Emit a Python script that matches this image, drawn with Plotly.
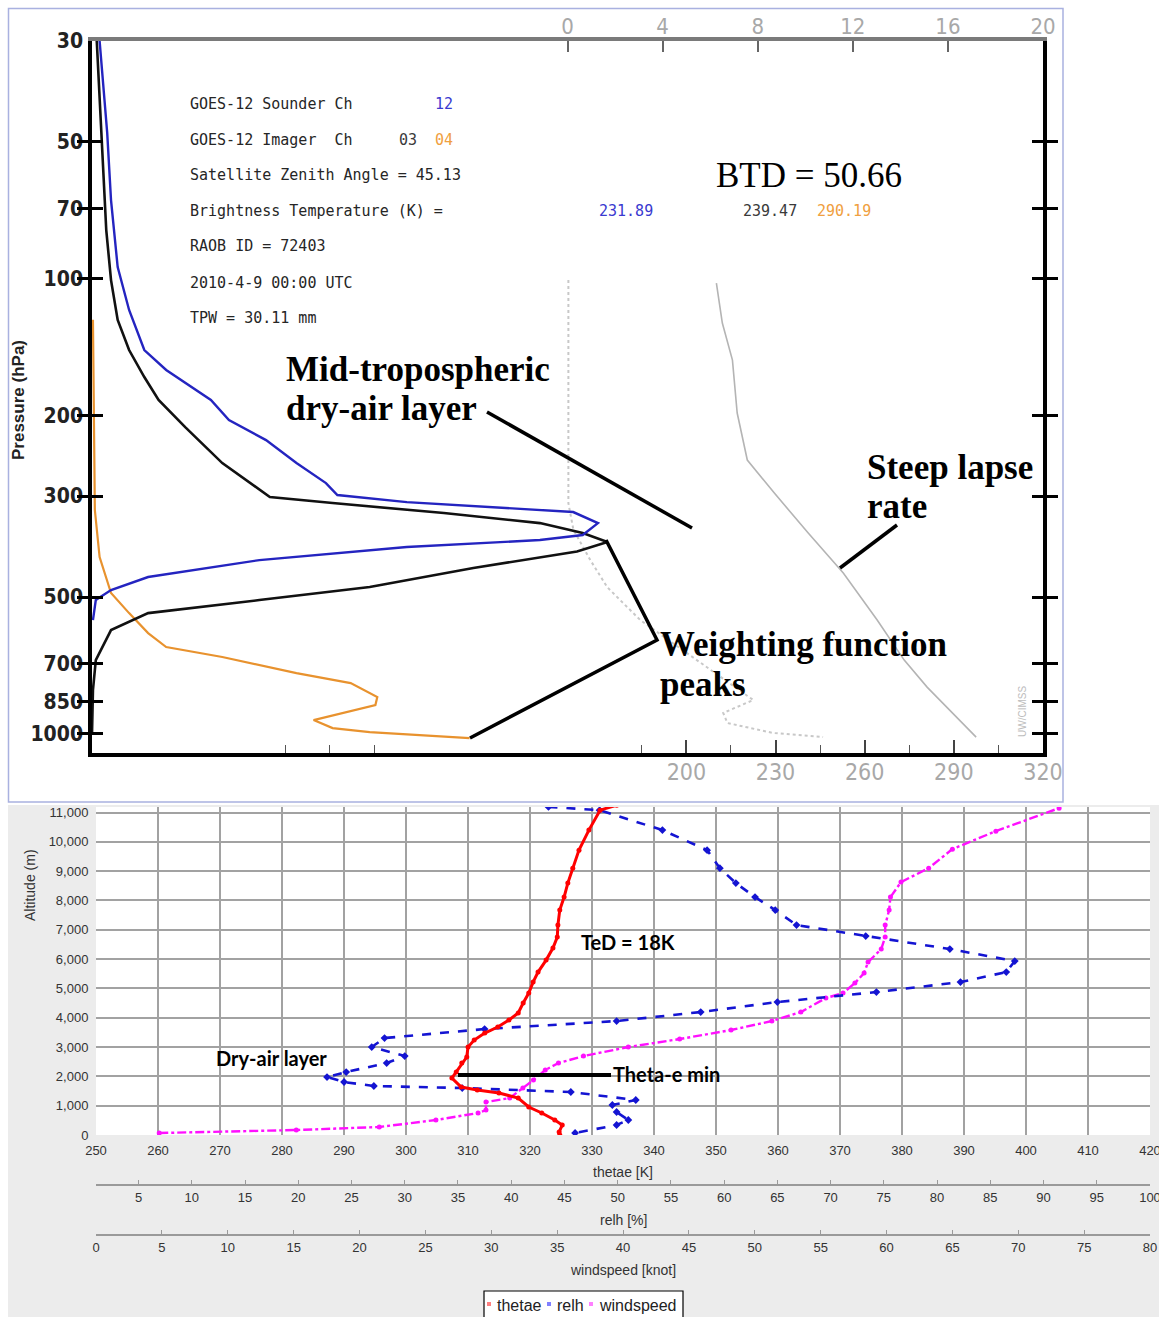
import math
import plotly.graph_objects as go

# Figure fills the whole 1159x1317 page (body margin removed in post_script)
OX, OY = 0, 0
W, H = 1159, 1317

# ---------------- top panel data (GOES-12 weighting functions + RAOB) ----------------
p_levels = [30, 50, 70, 100, 200, 300, 500, 700, 850, 1000]
temp_ticks = [200, 230, 260, 290, 320]
temp_minor = [65, 80, 95, 185, 215, 245, 275, 305]
wf_ticks = [0, 4, 8, 12, 16, 20]

# Sounder ch12 (blue) relative weight vs pressure
wf_ch12_w = [0.008, 0.013, 0.016, 0.020, 0.027, 0.039, 0.055, 0.078, 0.109, 0.125, 0.144,
             0.183, 0.215, 0.246, 0.258, 0.331, 0.506, 0.532, 0.516, 0.471, 0.331, 0.176,
             0.059, 0.020, 0.004, 0.001]
wf_ch12_p = [30, 40.4, 47.8, 67.1, 94.2, 117, 143.3, 158.5, 175.4, 184.5, 204.2,
             226, 253.9, 280.9, 298.5, 309.3, 325.3, 344, 365.4, 374.8, 388.3, 414.8,
             451.9, 482.8, 507.8, 561.9]

# Imager ch03 (black)
wf_ch03_w = [0.005, 0.008, 0.012, 0.015, 0.020, 0.027, 0.039, 0.055, 0.070, 0.098, 0.137,
             0.187, 0.253, 0.370, 0.471, 0.516, 0.542, 0.510, 0.401, 0.292, 0.176, 0.059,
             0.020, 0.004, 0.001, 0.0]
wf_ch03_p = [30, 40.4, 56.8, 78.1, 100.6, 123.1, 143.3, 164.3, 184.5, 211.6, 253.9,
             301.5, 310.8, 327, 344, 361.8, 378.6, 397, 431.9, 475.5, 507.8, 542.5,
             591, 688.2, 800.9, 1000]

# Imager ch04 (orange)
wf_ch04_w = [0.001, 0.002, 0.003, 0.008, 0.020, 0.039, 0.059, 0.078, 0.137, 0.215, 0.272,
             0.300, 0.298, 0.233, 0.253, 0.292, 0.397]
wf_ch04_p = [123, 204, 322, 408.6, 490, 542.5, 600.1, 644.2, 677.5, 734.8, 773,
             829.6, 864, 932.1, 970.6, 990.4, 1020.9]

# RAOB temperature (solid grey) and dewpoint (dotted grey), K
temp_T = [210.1, 212.1, 215.5, 217.1, 220.5, 229.6, 241.0, 252.8, 264.2, 273.3, 281.0, 297.5]
temp_p = [102.1, 125, 150.8, 197.1, 250, 295.5, 361.8, 443, 561.9, 688.2, 788.8, 1015.8]
dew_T = [160.3, 160.3, 162.0, 167.7, 173.4, 178.8, 184.5, 222.5, 212.4, 213.8, 229.2, 246.0]
dew_p = [100.5, 311, 356, 415, 476, 516, 562, 842, 899, 946, 995, 1016]

# ---------------- bottom panel data (sounding profile) ----------------
thetae_ticks = list(range(250, 421, 10))
relh_ticks = list(range(5, 101, 5))
wind_ticks = list(range(0, 81, 5))
alt_ticks = list(range(0, 11001, 1000))

thetae_alt = [0, 102, 341, 511, 750, 955, 1261, 1432, 1534, 1637, 1943, 2148, 2455, 2659,
              3000, 3239, 3478, 3682, 3921, 4160, 4500, 4841, 5216, 5557, 5966, 6376,
              6751, 7160, 7671, 8115, 8592, 9103, 9717, 10400, 11080, 11250]
thetae_val = [324.8, 324.7, 325.2, 324.0, 321.9, 319.8, 318.1, 315.0, 311.5, 308.9, 307.4,
              308.1, 309.0, 309.8, 310.0, 311.0, 312.7, 314.8, 316.6, 318.1, 318.9, 319.8,
              320.5, 321.3, 322.6, 323.7, 324.4, 324.5, 324.8, 325.5, 326.1, 326.9, 327.9,
              329.5, 331.3, 334.0]

relh_alt = [11190, 11080, 10400, 9717, 9103, 8592, 8115, 7671, 7160, 6785, 6342, 5932,
            5557, 5216, 4876, 4535, 4194, 3887, 3614, 3307, 3000, 2693, 2455, 2148, 1977,
            1807, 1671, 1602, 1466, 1193, 1023, 784, 511, 341, 68]
relh_val = [43.5, 48.3, 54.2, 58.4, 59.6, 61.1, 62.9, 64.8, 66.8, 73.3, 81.2, 87.3,
            86.5, 82.2, 74.3, 65.0, 57.8, 49.9, 37.5, 28.1, 26.9, 30.0, 28.3, 24.5, 22.7,
            24.3, 27.1, 35.4, 45.6, 51.7, 49.5, 49.9, 51.0, 49.9, 46.0]

wind_alt = [68, 170, 273, 511, 750, 852, 1125, 1261, 1602, 1875, 2216, 2455, 2693, 3000,
            3273, 3580, 3887, 4194, 4671, 4841, 5182, 5523, 5898, 6342, 6751, 7160, 7671,
            8115, 8626, 9103, 9751, 10365, 11149]
wind_val = [4.8, 15.2, 21.5, 25.8, 29.0, 29.6, 29.6, 31.4, 32.4, 33.2, 34.1, 35.1, 37.0,
            40.4, 44.3, 48.2, 51.3, 53.5, 55.4, 56.7, 57.6, 58.3, 58.6, 59.6, 59.9, 59.9,
            60.2, 60.3, 61.1, 63.2, 65.0, 68.3, 73.1]


def P(x, y):
    """page pixel position -> paper coordinates (layout placement only)"""
    return (x - OX) / W, 1 - (y - OY) / H


def dom_x(a, b):
    return [P(a, 0)[0], P(b, 0)[0]]


def dom_y(top, bottom):
    return [P(0, bottom)[1], P(0, top)[1]]


NARROW = "Liberation Sans Narrow, DejaVu Sans Condensed, Arial Narrow, sans-serif"
SERIF = "Liberation Serif, Times New Roman, serif"
MONO = "DejaVu Sans Mono, Liberation Mono, monospace"
SANS = "Liberation Sans, Arial, sans-serif"
CAL = "Lato, Carlito, Calibri, sans-serif"

fig = go.Figure()

# ---- top panel traces ----
fig.add_trace(go.Scatter(x=temp_T, y=temp_p, xaxis="x", yaxis="y", mode="lines",
                         line=dict(color="#b4b4b4", width=1.6), showlegend=False))
fig.add_trace(go.Scatter(x=dew_T, y=dew_p, xaxis="x", yaxis="y", mode="lines",
                         line=dict(color="#c8c8c8", width=2, dash="dot"), showlegend=False))
# empty trace so that the top (weighting-function scale) axis is drawn
fig.add_trace(go.Scatter(x=[], y=[], xaxis="x2", yaxis="y", mode="lines",
                         showlegend=False, hoverinfo="skip"))
fig.add_trace(go.Scatter(x=wf_ch04_w, y=wf_ch04_p, xaxis="x3", yaxis="y", mode="lines",
                         line=dict(color="#e8922e", width=2.2), showlegend=False))
fig.add_trace(go.Scatter(x=wf_ch03_w, y=wf_ch03_p, xaxis="x3", yaxis="y", mode="lines",
                         line=dict(color="#111111", width=2.6), showlegend=False))
fig.add_trace(go.Scatter(x=wf_ch12_w, y=wf_ch12_p, xaxis="x3", yaxis="y", mode="lines",
                         line=dict(color="#2424c0", width=2.4), showlegend=False))

# ---- bottom panel traces ----
fig.add_trace(go.Scatter(x=wind_val, y=wind_alt, xaxis="x4", yaxis="y2", mode="lines+markers",
                         name="windspeed",
                         line=dict(color="#ff10ff", width=2.4, dash="dashdot"),
                         marker=dict(size=5, color="#ff10ff"), showlegend=False))
fig.add_trace(go.Scatter(x=relh_val, y=relh_alt, xaxis="x5", yaxis="y2", mode="lines+markers",
                         name="relh",
                         line=dict(color="#1414d2", width=2.6, dash="dash"),
                         marker=dict(size=6, color="#1414d2", symbol="diamond"), showlegend=False))
fig.add_trace(go.Scatter(x=thetae_val, y=thetae_alt, xaxis="x6", yaxis="y2", mode="lines+markers",
                         name="thetae",
                         line=dict(color="#ff0000", width=3),
                         marker=dict(size=5, color="#ff0000"), showlegend=False))

# ---- axes ----
top_dom_x = dom_x(92, 1043)
top_dom_y = dom_y(41, 753)
bot_dom_x = dom_x(96, 1150)
bot_dom_y = dom_y(807, 1135)

layout = dict(
    width=W, height=H,
    margin=dict(l=0, r=0, t=0, b=0, pad=0, autoexpand=False),
    paper_bgcolor="white", plot_bgcolor="white",
    showlegend=False,
    xaxis=dict(domain=top_dom_x, anchor="y", range=[0, 320], side="bottom", automargin=False,
               showline=True, linecolor="black", linewidth=3.5, mirror=False,
               showgrid=False, zeroline=False,
               tickvals=temp_ticks, ticks="inside", ticklen=13, tickwidth=1.6, tickcolor="#444",
               ticklabelstandoff=-4,
               tickfont=dict(family=NARROW, size=23, color="#a8a8a8"),
               minor=dict(tickvals=temp_minor, ticks="inside", ticklen=8, tickwidth=1.3,
                          tickcolor="#555")),
    xaxis2=dict(overlaying="x", anchor="y", side="top", range=[-20, 20], automargin=False,
                showline=True, linecolor="#7a7a7a", linewidth=3.5,
                showgrid=False, zeroline=False,
                tickvals=wf_ticks, ticks="inside", ticklen=11, tickwidth=2, tickcolor="#666",
                ticklabelstandoff=-6,
                tickfont=dict(family=NARROW, size=22, color="#a8a8a8")),
    xaxis3=dict(overlaying="x", anchor="y", range=[0, 1], visible=False, automargin=False),
    yaxis=dict(domain=top_dom_y, anchor="x", type="log", automargin=False,
               range=[math.log10(1101), math.log10(30)],
               showline=True, linecolor="black", linewidth=3.5, mirror="allticks",
               showgrid=False, zeroline=False,
               tickvals=p_levels, ticktext=[str(v) for v in p_levels],
               ticks="inside", ticklen=11, tickwidth=3, tickcolor="black",
               ticklabelstandoff=1,
               tickfont=dict(family=NARROW, size=21, color="#222", weight="bold")),
    # bottom panel
    xaxis4=dict(domain=bot_dom_x, anchor="free", position=P(0, 1235)[1], range=[0, 80],
                side="bottom", showgrid=False, zeroline=False, automargin=False,
                showline=True, linecolor="#9a9a9a", linewidth=2,
                tickvals=wind_ticks, ticks="inside", ticklen=4, tickcolor="#9a9a9a",
                ticklabeloverflow="allow",
                tickfont=dict(family=SANS, size=13, color="#333")),
    xaxis5=dict(overlaying="x4", anchor="free", position=P(0, 1185)[1], range=[1, 100],
                side="bottom", showgrid=False, zeroline=False, automargin=False,
                showline=True, linecolor="#9a9a9a", linewidth=2,
                tickvals=relh_ticks, ticks="inside", ticklen=4, tickcolor="#9a9a9a",
                ticklabeloverflow="allow",
                tickfont=dict(family=SANS, size=13, color="#333")),
    xaxis6=dict(overlaying="x4", anchor="y2", range=[250, 420], side="bottom", automargin=False,
                showgrid=True, gridcolor="#a2a2a2", gridwidth=1.6, zeroline=False,
                showline=False, tickvals=thetae_ticks, ticks="outside", ticklen=3,
                tickcolor="rgba(0,0,0,0)", ticklabeloverflow="allow",
                tickfont=dict(family=SANS, size=13, color="#333")),
    yaxis2=dict(domain=bot_dom_y, anchor="x6", range=[0, 11188], automargin=False,
                showgrid=True, gridcolor="#a2a2a2", gridwidth=1.6, zeroline=False,
                showline=False, tickvals=alt_ticks, tickformat=",", ticks="outside",
                ticklen=4, tickcolor="rgba(0,0,0,0)",
                tickfont=dict(family=SANS, size=13, color="#333")),
)
fig.update_layout(**layout)

shapes = []


def rect(x0p, y0p, x1p, y1p, fill, line=None, layer="below"):
    a, b = P(x0p, y0p)
    c, d = P(x1p, y1p)
    shapes.append(dict(type="rect", xref="paper", yref="paper", x0=a, x1=c, y0=d, y1=b,
                       fillcolor=fill, line=line or dict(width=0), layer=layer))


# backgrounds
rect(8, 805, 1159, 1317, "#ececec")
rect(96, 807, 1150, 1135, "white")
rect(8.5, 8.5, 1063, 802, "white", dict(color="#a9b1e0", width=1.5))


def seg(pts, width=3.5, color="black"):
    path = ""
    for i, (x, y) in enumerate(pts):
        px_, py_ = P(x, y)
        path += ("M" if i == 0 else "L") + f"{px_},{py_} "
    shapes.append(dict(type="path", xref="paper", yref="paper", path=path.strip(),
                       line=dict(color=color, width=width), layer="above"))


seg([(487, 412), (692, 528)])
seg([(897, 525), (840, 568)])
seg([(606, 540), (657, 640), (470, 738)])
seg([(458, 1075), (611, 1075)], width=4)

# legend box (drawn manually to match the compact original legend)
rect(484, 1291, 683, 1318, "white", dict(color="black", width=1.2), layer="above")
for xx, col in [(489, "#ff8080"), (549, "#8080ff"), (591, "#ff80ff")]:
    rect(xx - 2, 1302, xx + 2, 1306, col, layer="above")

fig.update_layout(shapes=shapes)

ann = []


def txt(x, y, s, size, family, color="black", xanchor="left", angle=0, yanchor="middle"):
    px_, py_ = P(x, y)
    ann.append(dict(x=px_, y=py_, xref="paper", yref="paper", text=s, showarrow=False,
                    xanchor=xanchor, yanchor=yanchor, textangle=angle,
                    font=dict(size=size, family=family, color=color)))


INFO = "#262626"
# info block
txt(188, 104, "GOES-12 Sounder Ch", 15, MONO, INFO)
txt(433, 104, "12", 15, MONO, "#3a3ad0")
txt(188, 140, "GOES-12 Imager  Ch", 15, MONO, INFO)
txt(397, 140, "03", 15, MONO, "#3a3a3a")
txt(433, 140, "04", 15, MONO, "#f0a040")
txt(188, 175, "Satellite Zenith Angle = 45.13", 15, MONO, INFO)
txt(188, 211, "Brightness Temperature (K) =", 15, MONO, INFO)
txt(597, 211, "231.89", 15, MONO, "#3a3ad0")
txt(741, 211, "239.47", 15, MONO, "#3a3a3a")
txt(815, 211, "290.19", 15, MONO, "#f0a040")
txt(188, 246, "RAOB ID = 72403", 15, MONO, INFO)
txt(188, 283, "2010-4-9 00:00 UTC", 15, MONO, INFO)
txt(188, 318, "TPW = 30.11 mm", 15, MONO, INFO)

# serif annotations
txt(284, 370, "<b>Mid-tropospheric</b>", 35, SERIF)
txt(284, 408, "<b>dry-air layer</b>", 35, SERIF)
txt(714, 175, "BTD = 50.66", 35, SERIF)
txt(865, 468, "<b>Steep lapse</b>", 35, SERIF)
txt(865, 506, "<b>rate</b>", 35, SERIF)
txt(658, 644, "<b>Weighting function</b>", 35, SERIF)
txt(658, 684, "<b>peaks</b>", 35, SERIF)

txt(18, 400, "<b>Pressure (hPa)</b>", 17, SANS, "#222", xanchor="center", angle=-90)
txt(1022, 712, "UW/CIMSS", 10, SANS, "#bdbdbd", xanchor="center", angle=-90)

# bottom panel annotations
txt(579, 942, "<b>TeD = 18K</b>", 20, CAL)
txt(214, 1058, "<b>Dry-air layer</b>", 20, CAL)
txt(611, 1074, "<b>Theta-e min</b>", 20, CAL)
txt(30, 885, "Altitude (m)", 14, SANS, "#333", xanchor="center", angle=-90)
txt(623, 1172, "thetae [K]", 14, SANS, "#333", xanchor="center")
txt(623, 1220, "relh [%]", 14, SANS, "#333", xanchor="center")
txt(623, 1270, "windspeed [knot]", 14, SANS, "#333", xanchor="center")

# legend labels
txt(495, 1305, "thetae", 16, SANS, "#222")
txt(555, 1305, "relh", 16, SANS, "#222")
txt(597, 1305, "windspeed", 16, SANS, "#222")

fig.update_layout(annotations=ann)

fig.write_html("out.html",
               config={"displayModeBar": False},
               post_script="document.body.style.margin='0px';"
                           "document.body.style.overflow='hidden';")
